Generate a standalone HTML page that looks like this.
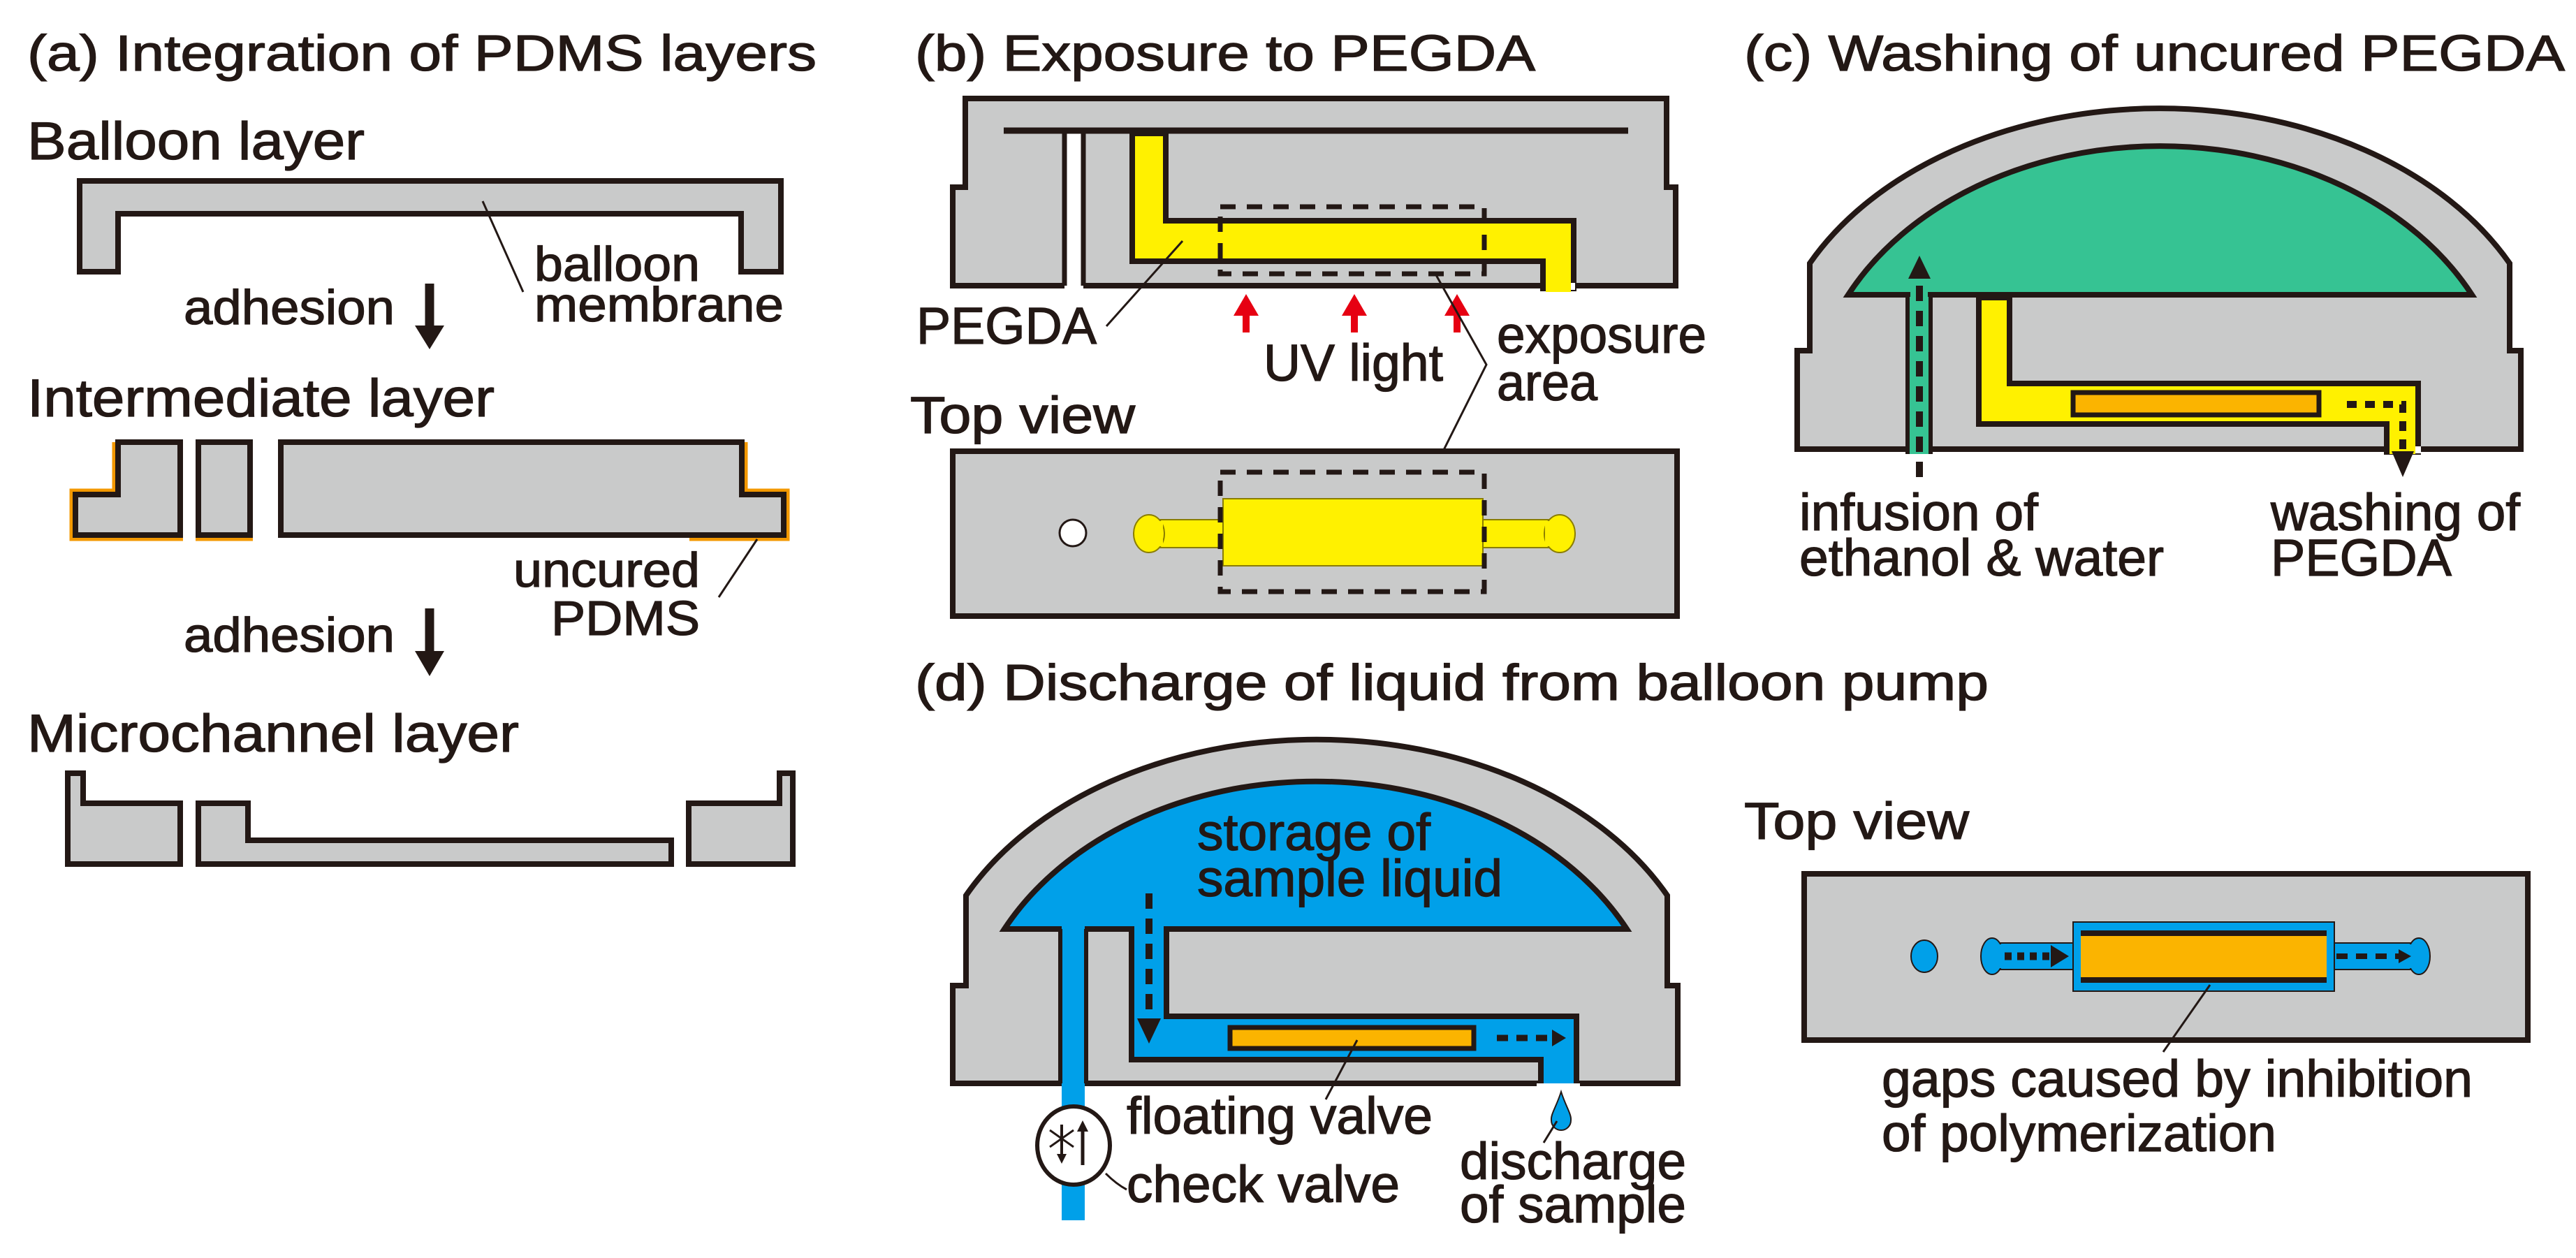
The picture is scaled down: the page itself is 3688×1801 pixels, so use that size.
<!DOCTYPE html>
<html><head><meta charset="utf-8"><style>
html,body{margin:0;padding:0;background:#fff}
svg{display:block}
text{font-family:"Liberation Sans",Arial,sans-serif;fill:#231815;stroke:#231815;stroke-width:1.3}
</style></head><body>
<svg width="3688" height="1801" viewBox="0 0 3688 1801" xmlns="http://www.w3.org/2000/svg">
<defs>
<style>
.g{fill:#c9caca;stroke:#231815;stroke-width:8;stroke-linejoin:miter}
.ln{stroke:#231815;stroke-width:3;fill:none}
.t{font-size:76px}
.tt{font-size:72px}
</style>
</defs>

<!-- ===== (a) ===== -->
<text x="39" y="101" class="tt" textLength="1130" lengthAdjust="spacingAndGlyphs">(a) Integration of PDMS layers</text>
<text x="39" y="228" class="t" textLength="483" lengthAdjust="spacingAndGlyphs">Balloon layer</text>
<path class="g" d="M114,259 H1118 V389 H1061 V306 H169 V389 H114 Z"/>
<line class="ln" x1="691" y1="288" x2="749" y2="418"/>
<text x="765" y="402" font-size="70" textLength="237" lengthAdjust="spacingAndGlyphs">balloon</text>
<text x="765" y="460" font-size="70" textLength="357" lengthAdjust="spacingAndGlyphs">membrane</text>
<text x="263" y="464" font-size="70" textLength="302" lengthAdjust="spacingAndGlyphs">adhesion</text>
<line x1="615" y1="406" x2="615" y2="472" stroke="#231815" stroke-width="13"/>
<polygon points="594,466 636,466 615,500" fill="#231815"/>

<text x="39" y="596" class="t" textLength="669" lengthAdjust="spacingAndGlyphs">Intermediate layer</text>
<polyline points="164,633 164,703 103,703 103,771 262,771" fill="none" stroke="#f39800" stroke-width="7"/>
<line x1="280" y1="771" x2="362" y2="771" stroke="#f39800" stroke-width="7"/>
<polyline points="1067,633 1067,703 1127,703 1127,771 987,771" fill="none" stroke="#f39800" stroke-width="7"/>
<path class="g" d="M169,633 H258 V766 H108 V708 H169 Z"/>
<rect class="g" x="284" y="633" width="74" height="133"/>
<path class="g" d="M402,633 H1062 V708 H1122 V766 H402 Z"/>
<line class="ln" x1="1084" y1="772" x2="1029" y2="855"/>
<text x="1002" y="840" font-size="70" text-anchor="end" textLength="267" lengthAdjust="spacingAndGlyphs">uncured</text>
<text x="1002" y="909" font-size="70" text-anchor="end" textLength="213" lengthAdjust="spacingAndGlyphs">PDMS</text>
<text x="263" y="933" font-size="70" textLength="302" lengthAdjust="spacingAndGlyphs">adhesion</text>
<line x1="615" y1="871" x2="615" y2="938" stroke="#231815" stroke-width="13"/>
<polygon points="594,932 636,932 615,968" fill="#231815"/>

<text x="39" y="1076" class="t" textLength="704" lengthAdjust="spacingAndGlyphs">Microchannel layer</text>
<path class="g" d="M97,1107 H119 V1150 H258 V1237 H97 Z"/>
<path class="g" d="M284,1150 H355 V1203 H961 V1237 H284 Z"/>
<path class="g" d="M986,1150 H1116 V1107 H1135 V1237 H986 Z"/>

<!-- ===== (b) ===== -->
<text x="1310" y="101" class="tt" textLength="888" lengthAdjust="spacingAndGlyphs">(b) Exposure to PEGDA</text>
<path class="g" d="M1382,141 H2386 V268 H2399 V409 H1364 V268 H1382 Z"/>
<rect x="1524" y="187" width="27" height="228" fill="#fff"/>
<line x1="1524" y1="187" x2="1524" y2="409" stroke="#231815" stroke-width="7"/>
<line x1="1551" y1="187" x2="1551" y2="409" stroke="#231815" stroke-width="7"/>
<line x1="1437" y1="187" x2="2331" y2="187" stroke="#231815" stroke-width="9"/>
<path d="M1621,191 H1669 V316 H2253 V413 H2209 V374 H1621 Z" fill="#fff100" stroke="#231815" stroke-width="8"/>
<rect x="2213" y="378" width="36" height="40" fill="#fff100"/>
<rect x="2249" y="405" width="6" height="10" fill="#fff"/>
<rect x="1747" y="296" width="378" height="96" fill="none" stroke="#231815" stroke-width="7" stroke-dasharray="22 16"/>
<g fill="#e60012">
<rect x="1779" y="448" width="10" height="28"/><polygon points="1766,452 1802,452 1784,421"/>
<rect x="1934" y="448" width="10" height="28"/><polygon points="1921,452 1957,452 1939,421"/>
<rect x="2081" y="448" width="10" height="28"/><polygon points="2068,452 2104,452 2086,421"/>
</g>
<line class="ln" x1="1693" y1="345" x2="1584" y2="467"/>
<text x="1312" y="492" font-size="74" textLength="258" lengthAdjust="spacingAndGlyphs">PEGDA</text>
<text x="1809" y="545" font-size="74" textLength="257" lengthAdjust="spacingAndGlyphs">UV light</text>
<text x="2143" y="505" font-size="74" textLength="300" lengthAdjust="spacingAndGlyphs">exposure</text>
<text x="2143" y="573" font-size="74" textLength="144" lengthAdjust="spacingAndGlyphs">area</text>
<polyline class="ln" points="2055,392 2128,522 2051,676"/>
<text x="1303" y="620" font-size="74" textLength="322" lengthAdjust="spacingAndGlyphs">Top view</text>
<rect class="g" x="1364" y="646" width="1037" height="236"/>
<rect x="1640" y="744" width="115" height="40" fill="#fff100" stroke="#8a7d00" stroke-width="2"/>
<rect x="2119" y="744" width="116" height="40" fill="#fff100" stroke="#8a7d00" stroke-width="2"/>
<ellipse cx="1645" cy="764" rx="22" ry="27" fill="#fff100" stroke="#8a7d00" stroke-width="2"/>
<ellipse cx="2233" cy="764" rx="22" ry="27" fill="#fff100" stroke="#8a7d00" stroke-width="2"/>
<rect x="1640" y="746" width="25" height="36" fill="#fff100"/>
<rect x="2212" y="746" width="25" height="36" fill="#fff100"/>
<rect x="1751" y="714" width="372" height="96" fill="#fff100" stroke="#8a7d00" stroke-width="2"/>
<rect x="1747" y="676" width="378" height="171" fill="none" stroke="#231815" stroke-width="7" stroke-dasharray="22 16"/>
<circle cx="1536" cy="763" r="19" fill="#fff" stroke="#231815" stroke-width="3"/>

<!-- ===== (c) ===== -->
<text x="2497" y="101" class="tt" textLength="1175" lengthAdjust="spacingAndGlyphs">(c) Washing of uncured PEGDA</text>
<path class="g" d="M2573,643 V502 H2591 V377 A560,401 0 0 1 3593,377 V502 H3609 V643 Z"/>
<path d="M2646,422 A500,387 0 0 1 3539,422 Z" fill="#36c393" stroke="#231815" stroke-width="8"/>
<rect x="2731" y="422" width="33" height="225" fill="#36c393" stroke="#231815" stroke-width="6"/>
<rect x="2735" y="410" width="25" height="20" fill="#36c393"/>
<rect x="2734" y="636" width="27" height="14" fill="#36c393"/>
<path d="M2833,426 H2877 V549 H3462 V647 H3417 V607 H2833 Z" fill="#fff100" stroke="#231815" stroke-width="8"/>
<rect x="3421" y="610" width="37" height="40" fill="#fff100"/>
<rect x="3458" y="639" width="8" height="10" fill="#fff"/>
<rect x="2968" y="562" width="352" height="32" fill="#fbb400" stroke="#231815" stroke-width="7"/>
<line x1="2748" y1="683" x2="2748" y2="395" stroke="#231815" stroke-width="10" stroke-dasharray="22 14"/>
<polygon points="2732,399 2764,399 2748,366" fill="#231815"/>
<path d="M3360,579 H3440 V648" fill="none" stroke="#231815" stroke-width="10" stroke-dasharray="14 12"/>
<polygon points="3424,646 3456,646 3440,683" fill="#231815"/>
<text x="2576" y="759" font-size="74" textLength="342" lengthAdjust="spacingAndGlyphs">infusion of</text>
<text x="2576" y="824" font-size="74" textLength="522" lengthAdjust="spacingAndGlyphs">ethanol &amp; water</text>
<text x="3251" y="759" font-size="74" textLength="357" lengthAdjust="spacingAndGlyphs">washing of</text>
<text x="3251" y="824" font-size="74" textLength="259" lengthAdjust="spacingAndGlyphs">PEGDA</text>

<!-- ===== (d) ===== -->
<text x="1310" y="1002" class="tt" textLength="1537" lengthAdjust="spacingAndGlyphs">(d) Discharge of liquid from balloon pump</text>
<path class="g" d="M1364,1551 V1411 H1383 V1282 A560,401 0 0 1 2387,1282 V1411 H2402 V1551 Z"/>
<path d="M1438,1330 A500,387 0 0 1 2329,1330 Z" fill="#00a0e9" stroke="#231815" stroke-width="8"/>
<rect x="1520" y="1322" width="33" height="425" fill="#00a0e9"/>
<line x1="1518" y1="1330" x2="1518" y2="1551" stroke="#231815" stroke-width="6"/>
<line x1="1555" y1="1330" x2="1555" y2="1551" stroke="#231815" stroke-width="6"/>
<path d="M1620,1330 H1670 V1455 H2257 V1555 H2206 V1517 H1620 Z" fill="#00a0e9" stroke="#231815" stroke-width="8"/>
<rect x="1624" y="1320" width="42" height="16" fill="#00a0e9"/>
<rect x="2210" y="1520" width="43" height="31" fill="#00a0e9"/>
<rect x="2200" y="1551" width="62" height="10" fill="#fff"/>
<rect x="1761" y="1471" width="349" height="30" fill="#fbb400" stroke="#231815" stroke-width="7"/>
<line x1="1645" y1="1279" x2="1645" y2="1462" stroke="#231815" stroke-width="10" stroke-dasharray="22 14"/>
<polygon points="1628,1458 1662,1458 1645,1494" fill="#231815"/>
<line x1="2143" y1="1486" x2="2226" y2="1486" stroke="#231815" stroke-width="9" stroke-dasharray="16 12"/>
<polygon points="2222,1474 2222,1498 2242,1486" fill="#231815"/>
<ellipse cx="1537" cy="1640" rx="52" ry="56" fill="#fff" stroke="#231815" stroke-width="6"/>
<line x1="1550" y1="1668" x2="1550" y2="1615" stroke="#231815" stroke-width="5"/>
<polygon points="1542,1620 1558,1620 1550,1604" fill="#231815"/>
<line x1="1503" y1="1618" x2="1537" y2="1642" stroke="#231815" stroke-width="3"/>
<line x1="1537" y1="1618" x2="1503" y2="1642" stroke="#231815" stroke-width="3"/>
<line x1="1520" y1="1610" x2="1520" y2="1652" stroke="#231815" stroke-width="4"/>
<polygon points="1513,1652 1527,1652 1520,1666" fill="#231815"/>
<path class="ln" d="M1583,1680 Q1598,1695 1613,1703"/>
<path d="M2235,1563 C2228,1585 2220,1595 2221,1604 A14,14 0 0 0 2249,1604 C2250,1595 2242,1585 2235,1563 Z" fill="#00a0e9" stroke="#231815" stroke-width="2"/>
<line class="ln" x1="2229" y1="1605" x2="2210" y2="1636"/>
<line class="ln" x1="1943" y1="1489" x2="1898" y2="1574"/>
<text x="1714" y="1217" font-size="74" textLength="334" lengthAdjust="spacingAndGlyphs">storage of</text>
<text x="1714" y="1283" font-size="74" textLength="437" lengthAdjust="spacingAndGlyphs">sample liquid</text>
<text x="1613" y="1623" font-size="74" textLength="438" lengthAdjust="spacingAndGlyphs">floating valve</text>
<text x="1613" y="1721" font-size="74" textLength="391" lengthAdjust="spacingAndGlyphs">check valve</text>
<text x="2090" y="1688" font-size="74" textLength="324" lengthAdjust="spacingAndGlyphs">discharge</text>
<text x="2090" y="1750" font-size="74" textLength="324" lengthAdjust="spacingAndGlyphs">of sample</text>

<text x="2497" y="1201" font-size="74" textLength="322" lengthAdjust="spacingAndGlyphs">Top view</text>
<rect class="g" x="2583" y="1251" width="1036" height="238"/>
<rect x="2848" y="1350" width="124" height="38" fill="#00a0e9" stroke="#231815" stroke-width="2"/>
<rect x="3338" y="1350" width="127" height="38" fill="#00a0e9" stroke="#231815" stroke-width="2"/>
<ellipse cx="2852" cy="1369" rx="16" ry="26" fill="#00a0e9" stroke="#231815" stroke-width="2"/>
<ellipse cx="3463" cy="1369" rx="16" ry="26" fill="#00a0e9" stroke="#231815" stroke-width="2"/>
<rect x="2852" y="1352" width="22" height="34" fill="#00a0e9"/>
<rect x="3440" y="1352" width="22" height="34" fill="#00a0e9"/>
<rect x="2968" y="1320" width="374" height="99" fill="#00a0e9" stroke="#231815" stroke-width="2"/>
<rect x="2979" y="1334" width="352" height="72" fill="#fbb400"/>
<line x1="2979" y1="1336" x2="3331" y2="1336" stroke="#231815" stroke-width="8"/>
<line x1="2979" y1="1403" x2="3331" y2="1403" stroke="#231815" stroke-width="8"/>
<ellipse cx="2755" cy="1369" rx="19" ry="23" fill="#00a0e9" stroke="#231815" stroke-width="2"/>
<line x1="2870" y1="1369" x2="2940" y2="1369" stroke="#231815" stroke-width="11" stroke-dasharray="10 8"/>
<polygon points="2936,1353 2936,1385 2962,1369" fill="#231815"/>
<line x1="3345" y1="1369" x2="3436" y2="1369" stroke="#231815" stroke-width="8" stroke-dasharray="16 12"/>
<polygon points="3434,1359 3434,1379 3452,1369" fill="#231815"/>
<line class="ln" x1="3164" y1="1410" x2="3097" y2="1506"/>
<text x="2694" y="1570" font-size="74" textLength="846" lengthAdjust="spacingAndGlyphs">gaps caused by inhibition</text>
<text x="2694" y="1648" font-size="74" textLength="565" lengthAdjust="spacingAndGlyphs">of polymerization</text>
</svg>
</body></html>
